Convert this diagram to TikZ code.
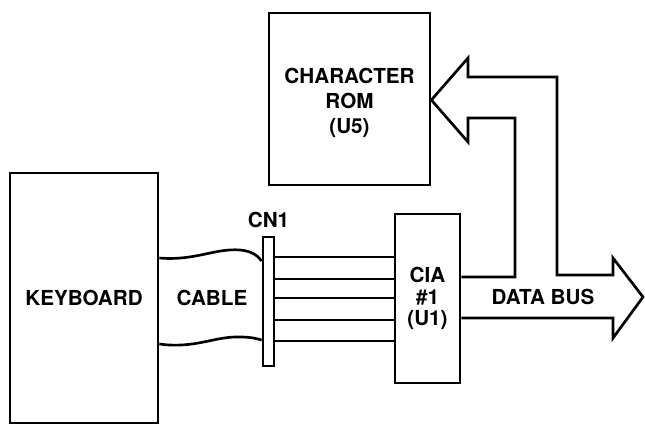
\documentclass[tikz,border=0pt]{standalone}
\usepackage{fontspec}
\setmainfont{TeX Gyre Heros}
\usetikzlibrary{positioning}
\tikzset{every picture/.style={line width=2pt}}
\tikzset{
  blockbox/.style={draw, rectangle, inner sep=0pt, align=center},
  lbl/.style={inner sep=0.75pt, align=center, font=\fontsize{15.5}{18}\selectfont\bfseries}
}

\begin{document}
\begin{tikzpicture}[x=0.75pt,y=0.75pt,yscale=-1,xscale=1]
\useasboundingbox (0,0) rectangle (645,425);

%Shape: Rectangle
\node [blockbox, lbl, minimum width=111pt, minimum height=187.5pt] (kbd) at (84,298) {KEYBOARD};
%Shape: Rectangle
\node [blockbox, minimum width=120.75pt, minimum height=129pt] (rom) at (349.5,99) {};
%Shape: Rectangle
\node [blockbox, minimum width=8.25pt, minimum height=96.75pt] (cn1) at (268.5,301.5) {};
%Shape: Rectangle
\node [blockbox, lbl, minimum width=48.75pt, minimum height=126.75pt, font=\fontsize{15.5}{16}\selectfont\bfseries] (cia) at (427.5,298.5) {CIA\\\#1\\(U1)};

%Curve Lines
\draw (kbd.east |- 0,258) .. controls (195,261) and (215,248) .. (240,250) .. controls (252,251) and (258,256) .. (cn1.west |- 0,261) ;
%Curve Lines
\draw (kbd.east |- 0,344) .. controls (195,349) and (215,336) .. (240,337) .. controls (252,337) and (258,339) .. (cn1.west |- 0,340) ;

%Straight Lines
\foreach \y in {257,279,298,320,341}
  \draw (cn1.east |- 0,\y) -- (cia.west |- 0,\y) ;

%Shape: Bus arrow
\draw [line join=miter] (cia.east |- 0,277) -- (515,277) -- (515,118) -- (468,118) -- (468,142) -- (rom.east |- 0,100) -- (468,58) -- (468,77) -- (557,77) -- (557,275) -- (613,275) -- (613,258) -- (643,297) -- (613,338) -- (613,318) -- (cia.east |- 0,318) ;

% Text Node
\node [lbl, font=\fontsize{15.5}{19}\selectfont\bfseries] (romtext) at (349.5,103) {CHARACTER\\ROM\\(U5)};
% Text Node
\node [lbl] (cable) at (212,298) {CABLE};
% Text Node
\node [lbl, above=4pt of cn1] (cnlabel) {CN1};
% Text Node
\node [lbl] (bus) at (543,297) {DATA BUS};

\end{tikzpicture}
\end{document}
